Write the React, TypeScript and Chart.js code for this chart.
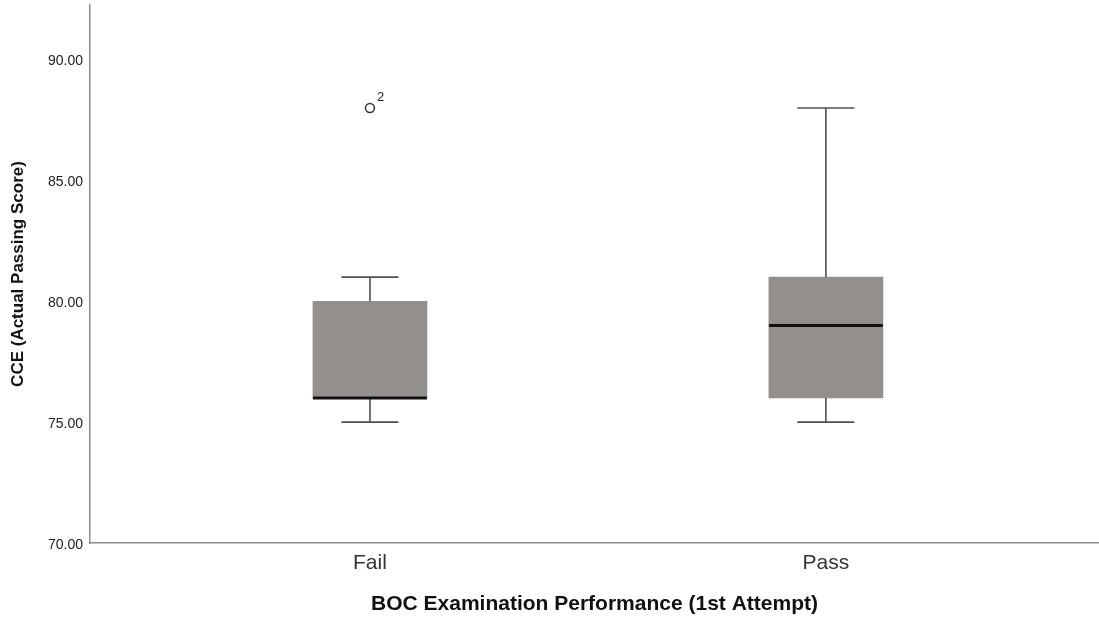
import React, { useEffect, useRef } from "react";
import { Chart, registerables } from "chart.js";

Chart.register(...registerables);

const categories = ["Fail", "Pass"];
const whiskerLow = [75, 75];
const q1 = [76, 76];
const median = [76, 79];
const q3 = [80, 81];
const whiskerHigh = [81, 88];
const outlierValues = [[88], []];
const outlierLabels = [["2"], []];
const yTicks = [70, 75, 80, 85, 90];

const FONT = "'Liberation Sans', Arial, sans-serif";

const boxPlugin = {
  id: "boxWhiskers",
  afterDatasetsDraw(chart: any) {
    const { ctx, scales } = chart;
    const x = scales.x;
    const y = scales.y;
    const boxHalf = 57;
    const capHalf = 28.5;
    ctx.save();
    categories.forEach((_, i) => {
      const cx = x.getPixelForValue(i + 1);
      const yLo = y.getPixelForValue(whiskerLow[i]);
      const yQ1 = y.getPixelForValue(q1[i]);
      const yQ3 = y.getPixelForValue(q3[i]);
      const yHi = y.getPixelForValue(whiskerHigh[i]);
      const yMed = y.getPixelForValue(median[i]);
      ctx.strokeStyle = "#505050";
      ctx.lineWidth = 1.6;
      ctx.beginPath();
      ctx.moveTo(cx, yQ1);
      ctx.lineTo(cx, yLo);
      ctx.moveTo(cx - capHalf, yLo);
      ctx.lineTo(cx + capHalf, yLo);
      ctx.moveTo(cx, yQ3);
      ctx.lineTo(cx, yHi);
      ctx.moveTo(cx - capHalf, yHi);
      ctx.lineTo(cx + capHalf, yHi);
      ctx.stroke();
      ctx.strokeStyle = "#111111";
      ctx.lineWidth = 3;
      ctx.beginPath();
      ctx.moveTo(cx - boxHalf, yMed);
      ctx.lineTo(cx + boxHalf, yMed);
      ctx.stroke();
      outlierValues[i].forEach((v, j) => {
        const py = y.getPixelForValue(v);
        ctx.fillStyle = "#222";
        ctx.font = `13px ${FONT}`;
        ctx.textAlign = "left";
        ctx.textBaseline = "middle";
        ctx.fillText(outlierLabels[i][j], cx + 7, py - 11);
      });
    });
    ctx.restore();
  },
};

export default function App() {
  const ref = useRef<HTMLCanvasElement | null>(null);
  useEffect(() => {
    document.body.style.margin = "0";
    const canvas = ref.current;
    if (!canvas) return;
    const boxData = categories.map((_, i) => ({ x: i + 1, y: [q1[i], q3[i]] }));
    const outData: any[] = [];
    outlierValues.forEach((arr, i) => arr.forEach((v) => outData.push({ x: i + 1, y: v })));
    const chart = new Chart(canvas, {
      type: "bar",
      data: {
        datasets: [
          {
            type: "bar",
            data: boxData as any,
            backgroundColor: "#938f8d",
            borderWidth: 0,
            barThickness: 114,
          } as any,
          {
            type: "scatter",
            data: outData,
            pointRadius: 4.5,
            pointBorderWidth: 1.5,
            pointBorderColor: "#333",
            pointBackgroundColor: "#ffffff",
            borderColor: "#333",
            backgroundColor: "#ffffff",
            clip: false,
          } as any,
        ],
      },
      options: {
        animation: false,
        responsive: false,
        maintainAspectRatio: false,
        layout: { autoPadding: false, padding: { top: 5, left: 0, right: 0, bottom: 0 } },
        plugins: { legend: { display: false }, tooltip: { enabled: false } },
        scales: {
          x: {
            type: "linear",
            offset: false,
            min: 0.386,
            max: 2.599,
            grid: { display: false, drawTicks: false, offset: false },
            border: { display: true, color: "#8c8c8c", width: 1.5 },
            afterBuildTicks: (s: any) => {
              s.ticks = categories.map((_, i) => ({ value: i + 1 }));
            },
            afterFit: (s: any) => {
              s.height = 78;
              s.paddingLeft = 0;
              s.paddingRight = 0;
            },
            ticks: {
              padding: 8,
              color: "#333",
              font: { family: FONT, size: 21 },
              callback: (v: any) => categories[Number(v) - 1] ?? "",
              autoSkip: false,
              maxRotation: 0,
            },
            title: {
              display: true,
              text: "BOC Examination Performance (1st Attempt)",
              color: "#111",
              font: { family: FONT, size: 21, weight: "bold" },
              padding: { top: 0, bottom: 4 },
            },
          },
          y: {
            min: 70,
            max: 92.26,
            grid: { display: false, drawTicks: false },
            border: { display: true, color: "#8c8c8c", width: 1.5 },
            afterBuildTicks: (s: any) => {
              s.ticks = yTicks.map((v) => ({ value: v }));
            },
            afterFit: (s: any) => {
              s.width = 90;
              s.paddingTop = 0;
              s.paddingBottom = 0;
            },
            ticks: {
              padding: 7,
              color: "#222",
              labelOffset: 2,
              font: { family: FONT, size: 14 },
              callback: (v: any) => Number(v).toFixed(2),
            },
            title: {
              display: true,
              text: "CCE (Actual Passing Score)",
              color: "#111",
              font: { family: FONT, size: 17, weight: "bold" },
              padding: { top: 8, bottom: 0 },
            },
          },
        },
      },
      plugins: [boxPlugin],
    });
    return () => chart.destroy();
  }, []);
  return (
    <div style={{ width: 1099, height: 621 }}>
      <canvas ref={ref} width={1099} height={621} style={{ display: "block" }} />
    </div>
  );
}
